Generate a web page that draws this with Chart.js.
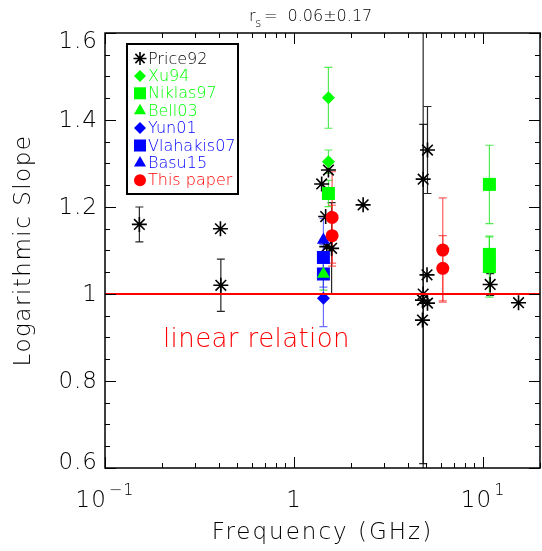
<!DOCTYPE html>
<html>
<head>
<meta charset="utf-8">
<title>Logarithmic Slope vs Frequency</title>
<script src="https://cdn.jsdelivr.net/npm/chart.js@4.4.0/dist/chart.umd.min.js"></script>
<style>
  html, body { margin: 0; padding: 0; background: #fff; }
  #wrap { width: 542px; height: 551px; }
</style>
</head>
<body>
<div id="wrap"><canvas id="chart" width="542" height="551"></canvas></div>
<script>
/* ========================================================
   Logarithmic slope vs frequency — scatter with error bars
   ======================================================== */

/* ---------- Data ---------- */
const price92Freq  = [0.152, 0.408, 0.41, 1.40, 1.52, 1.47, 1.49, 1.58, 2.32, 4.82, 5.08, 5.05, 4.82, 4.78, 5.08, 4.78, 10.9, 15.4];
const price92Slope = [1.16, 1.15, 1.02, 1.253, 1.285, 1.178, 1.109, 1.105, 1.205, 1.264, 1.331, 1.044, 1.0, 0.986, 0.979, 0.94, 1.022, 0.98];
const price92Err   = [0.04, 0, 0.06, 0, 0, 0, 0, 0.105, 0, 0.72, 0.10, 0, 0.39, 0, 0, 0, 0.025, 0];

const xu94Freq  = [1.52, 1.52];
const xu94Slope = [1.451, 1.304];
const xu94Err   = [0.07, 0.027];

const niklas97Freq  = [1.52, 10.8, 10.8, 10.8];
const niklas97Slope = [1.231, 1.252, 1.091, 1.063];
const niklas97Err   = [0.03, 0.09, 0.04, 0.07];

const bell03Freq  = [1.43];
const bell03Slope = [1.046];
const bell03Err   = [0.037];

const yun01Freq  = [1.43];
const yun01Slope = [0.99];
const yun01Err   = [0.065];

const vlahakis07Freq  = [1.43, 1.43];
const vlahakis07Slope = [1.084, 1.046];
const vlahakis07Err   = [0.03, 0.03];

const basu15Freq  = [1.43];
const basu15Slope = [1.124];
const basu15Err   = [0.05];

const thisPaperFreq  = [1.59, 1.59, 6.12, 6.12];
const thisPaperSlope = [1.176, 1.134, 1.101, 1.059];
const thisPaperErr   = [0.105, 0.07, 0.12, 0.075];

const linearRelation = [1, 1];   // slope of the reference line at xMin and xMax

/* ---------- Axes ---------- */
const xMin = 0.1, xMax = 20;
const yMin = 0.6, yMax = 1.6;
const xTickValues = [0.1, 1, 10];
const xTickLabels = [['10', '\u22121'], ['1', ''], ['10', '1']];
const yTickValues = [0.6, 0.8, 1, 1.2, 1.4, 1.6];
const yTickLabels = ['0.6', '0.8', '1', '1.2', '1.4', '1.6'];

const titleText = ['r', 's', '=  0.06\u00b10.17'];
const xTitle = 'Frequency (GHz)';
const yTitle = 'Logarithmic Slope';

(function () {
  'use strict';

  const GREEN = '#00ff00';
  const BLUE = '#0000ff';
  const RED = '#ff0000';
  const BLACK = '#000000';
  const FONT = '"DejaVu Sans", "Liberation Sans", sans-serif';
  const W = '200';   // light weight if the face exists, regular otherwise

  /* ---------- Series styles ---------- */
  const series = [
    { label: 'Price92', freq: price92Freq, slope: price92Slope, err: price92Err,
      color: BLACK, errColor: 'rgba(0,0,0,0.85)', style: 'star', radius: 7.5, border: 1.6, order: 9 },
    { label: 'Xu94', freq: xu94Freq, slope: xu94Slope, err: xu94Err,
      color: GREEN, errColor: 'rgba(40,230,40,0.8)', style: 'rectRot', radius: 6.5, border: 0, order: 7 },
    { label: 'Niklas97', freq: niklas97Freq, slope: niklas97Slope, err: niklas97Err,
      color: GREEN, errColor: 'rgba(40,230,40,0.8)', style: 'rect', radius: 9.2, border: 0, order: 6 },
    { label: 'Bell03', freq: bell03Freq, slope: bell03Slope, err: bell03Err,
      color: GREEN, errColor: 'rgba(40,230,40,0.8)', style: 'triangle', radius: 7.5, border: 0, order: 4 },
    { label: 'Yun01', freq: yun01Freq, slope: yun01Slope, err: yun01Err,
      color: BLUE, errColor: 'rgba(60,60,255,0.75)', style: 'rectRot', radius: 6.5, border: 0, order: 5 },
    { label: 'Vlahakis07', freq: vlahakis07Freq, slope: vlahakis07Slope, err: vlahakis07Err,
      color: BLUE, errColor: 'rgba(60,60,255,0.75)', style: 'rect', radius: 9.2, border: 0, order: 5 },
    { label: 'Basu15', freq: basu15Freq, slope: basu15Slope, err: basu15Err,
      color: BLUE, errColor: 'rgba(60,60,255,0.75)', style: 'triangle', radius: 7.5, border: 0, order: 5 },
    { label: 'This paper', freq: thisPaperFreq, slope: thisPaperSlope, err: thisPaperErr,
      color: RED, errColor: 'rgba(255,40,40,0.75)', style: 'circle', radius: 6.5, border: 0, order: 1 },
  ];

  const datasets = series.map((s) => ({
    label: s.label,
    data: s.freq.map((f, i) => ({ x: f, y: s.slope[i] })),
    pointStyle: s.style,
    pointRadius: s.radius,
    pointHoverRadius: s.radius,
    backgroundColor: s.color,
    borderColor: s.color,
    borderWidth: s.border,
    showLine: false,
    order: s.order,
  }));

  datasets.push({
    type: 'line',
    label: 'linear relation',
    data: [{ x: xMin, y: linearRelation[0] }, { x: xMax, y: linearRelation[1] }],
    borderColor: RED,
    borderWidth: 2,
    pointRadius: 0,
    order: 0,
  });

  /* ---------- Error bars (drawn under markers) ---------- */
  const errorBars = {
    id: 'errorBars',
    beforeDatasetsDraw(chart) {
      const { ctx, chartArea: a, scales: { x, y } } = chart;
      ctx.save();
      ctx.beginPath();
      ctx.rect(a.left, a.top, a.right - a.left, a.bottom - a.top);
      ctx.clip();
      ctx.lineWidth = 1.2;
      series.forEach((s) => {
        ctx.strokeStyle = s.errColor;
        s.freq.forEach((f, i) => {
          const e = s.err[i];
          if (!e) return;
          const px = x.getPixelForValue(f);
          const lo = y.getPixelForValue(s.slope[i] - e);
          const hi = y.getPixelForValue(s.slope[i] + e);
          ctx.beginPath();
          ctx.moveTo(px, lo);
          ctx.lineTo(px, hi);
          ctx.moveTo(px - 4, lo);
          ctx.lineTo(px + 4, lo);
          ctx.moveTo(px - 4, hi);
          ctx.lineTo(px + 4, hi);
          ctx.stroke();
        });
      });
      ctx.restore();
    },
  };

  /* ---------- Frame, ticks, labels, legend ---------- */
  function drawMarker(ctx, style, r, bw, px, py, color) {
    ctx.fillStyle = color;
    ctx.strokeStyle = color;
    ctx.lineWidth = bw;
    Chart.helpers.drawPoint(ctx, { pointStyle: style, radius: r, borderWidth: bw, rotation: 0 }, px, py);
  }

  const decorations = {
    id: 'decorations',
    afterDraw(chart) {
      const { ctx, chartArea: a, scales: { x, y } } = chart;
      ctx.save();

      /* box */
      ctx.strokeStyle = BLACK;
      ctx.lineWidth = 1.5;
      ctx.strokeRect(a.left, a.top, a.right - a.left, a.bottom - a.top);

      /* ticks, inward on all four sides */
      ctx.lineWidth = 1;
      ctx.beginPath();
      for (let v = yMin; v <= yMax + 1e-9; v += 0.05) {
        const py = Math.round(y.getPixelForValue(v)) + 0.5;
        const major = Math.abs(v * 5 - Math.round(v * 5)) < 1e-6;
        const len = major ? 11 : 5;
        ctx.moveTo(a.left, py); ctx.lineTo(a.left + len, py);
        ctx.moveTo(a.right, py); ctx.lineTo(a.right - len, py);
      }
      for (let d = 0.1; d < xMax; d *= 10) {
        for (let m = 1; m <= 9; m++) {
          const v = d * m;
          if (v < xMin || v > xMax) continue;
          const px = Math.round(x.getPixelForValue(v)) + 0.5;
          const len = m === 1 ? 11 : 5;
          ctx.moveTo(px, a.bottom); ctx.lineTo(px, a.bottom - len);
          ctx.moveTo(px, a.top); ctx.lineTo(px, a.top + len);
        }
      }
      ctx.stroke();

      /* y tick labels, end labels kept inside the box height */
      ctx.fillStyle = BLACK;
      ctx.font = `${W} 23px ${FONT}`;
      ctx.letterSpacing = '1px';
      ctx.textAlign = 'right';
      ctx.textBaseline = 'middle';
      yTickValues.forEach((v, i) => {
        const py = Math.min(Math.max(y.getPixelForValue(v) + 1, a.top + 9), a.bottom - 5);
        ctx.fillText(yTickLabels[i], a.left - 7, py);
      });

      /* x tick labels with superscripts */
      ctx.textAlign = 'left';
      ctx.textBaseline = 'alphabetic';
      xTickValues.forEach((v, i) => {
        const [base, sup] = xTickLabels[i];
        ctx.font = `${W} 23px ${FONT}`;
        const wb = ctx.measureText(base).width;
        ctx.font = `${W} 16px ${FONT}`;
        const ws = sup ? ctx.measureText(sup).width + 2 : 0;
        const left = x.getPixelForValue(v) - (wb + ws) / 2;
        ctx.font = `${W} 23px ${FONT}`;
        ctx.fillText(base, left, a.bottom + 39);
        if (sup) {
          ctx.font = `${W} 16px ${FONT}`;
          ctx.fillText(sup, left + wb + 2, a.bottom + 27);
        }
      });

      /* axis titles */
      ctx.font = `${W} 23px ${FONT}`;
      ctx.letterSpacing = '2px';
      ctx.textAlign = 'center';
      ctx.textBaseline = 'middle';
      ctx.fillText(xTitle, (a.left + a.right) / 2, 533);
      ctx.save();
      ctx.translate(24, (a.top + a.bottom) / 2);
      ctx.rotate(-Math.PI / 2);
      ctx.letterSpacing = '1.5px';
      ctx.fillText(yTitle, 0, 0);
      ctx.restore();

      /* title r_s = ... */
      ctx.letterSpacing = '0px';
      ctx.textAlign = 'left';
      ctx.textBaseline = 'alphabetic';
      ctx.font = `${W} 16px ${FONT}`;
      ctx.fillText(titleText[0], 249, 21);
      ctx.font = `${W} 12px ${FONT}`;
      ctx.fillText(titleText[1], 255, 27);
      ctx.font = `${W} 16px ${FONT}`;
      ctx.fillText(titleText[2], 264, 21);

      /* line label */
      ctx.fillStyle = RED;
      ctx.font = `${W} 26px ${FONT}`;
      ctx.letterSpacing = '0.4px';
      ctx.fillText('linear relation', 163, 347);

      /* legend */
      ctx.letterSpacing = '0px';
      ctx.fillStyle = '#fff';
      ctx.fillRect(127, 44, 111, 150);
      ctx.strokeStyle = BLACK;
      ctx.lineWidth = 2;
      ctx.strokeRect(127, 44, 111, 150);
      ctx.font = `${W} 16px ${FONT}`;
      ctx.textBaseline = 'middle';
      series.forEach((s, i) => {
        const ry = 58.5 + i * 17.4;
        const r = s.style === 'rect' ? 8.5 : (s.style === 'star' ? 6.5 : (s.style === 'triangle' ? 7 : 6));
        drawMarker(ctx, s.style, r, s.border, 140, ry, s.color);
        ctx.fillStyle = s.color;
        ctx.fillText(s.label, 148, ry + 1);
      });

      ctx.restore();
    },
  };

  /* ---------- Chart ---------- */
  new Chart(document.getElementById('chart'), {
    type: 'scatter',
    data: { datasets },
    options: {
      responsive: false,
      animation: false,
      devicePixelRatio: 1,
      layout: { padding: { top: 33, right: 2, left: 0, bottom: 0 }, autoPadding: false },
      plugins: { legend: { display: false }, tooltip: { enabled: false } },
      scales: {
        x: {
          type: 'logarithmic',
          min: xMin,
          max: xMax,
          ticks: { display: false },
          grid: { display: false },
          border: { display: false },
          afterFit: (s) => { s.height = 83; },
        },
        y: {
          type: 'linear',
          min: yMin,
          max: yMax,
          ticks: { display: false },
          grid: { display: false },
          border: { display: false },
          afterFit: (s) => { s.width = 105; },
        },
      },
    },
    plugins: [errorBars, decorations],
  });
})();
</script>
</body>
</html>
